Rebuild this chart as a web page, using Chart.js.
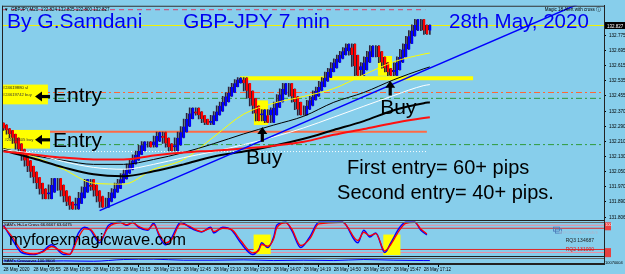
<!DOCTYPE html>
<html><head><meta charset="utf-8">
<script src="https://cdn.jsdelivr.net/npm/chart.js@4.4.1/dist/chart.umd.min.js"></script>
<style>html,body{margin:0;padding:0;background:#87CEEB;overflow:hidden}</style>
</head><body>
<canvas id="c" width="625" height="274"></canvas>
<script>
// ---------- data ----------
const closes = [
 132.28,132.27,132.25,132.23,
 132.20,132.17,132.14,132.11,132.08,132.05,132.02,131.99,131.96,131.93,131.905,
 131.94,131.98,132.015,
 131.98,131.95,131.92,131.89,131.87,131.85,
 131.88,131.91,131.94,131.97,132.01,
 131.98,131.95,131.92,131.89,131.86,
 131.89,131.91,131.94,131.96,131.99,132.01,132.04,132.06,132.09,132.11,132.14,132.16,132.19,132.21,
 132.19,132.18,
 132.21,132.24,132.26,
 132.23,132.20,132.18,132.16,
 132.19,132.23,132.26,132.29,132.33,132.36,132.39,
 132.37,132.35,132.33,132.31,132.30,
 132.32,132.35,132.37,132.40,132.42,132.45,132.47,132.50,132.52,132.54,132.55,
 132.52,132.48,132.44,132.40,132.36,132.32,
 132.35,132.38,132.31,
 132.35,132.39,132.42,132.46,132.49,132.52,
 132.49,132.45,132.42,132.38,132.35,
 132.38,132.40,132.43,132.45,132.48,132.50,132.53,132.55,132.58,132.60,132.63,132.65,132.67,132.69,132.71,132.73,
 132.67,132.61,132.56,
 132.59,132.63,132.66,132.69,132.72,
 132.69,132.66,132.63,132.60,132.58,132.56,
 132.59,132.63,132.66,132.70,132.73,132.77,132.80,132.83,132.86,
 132.83,132.80,132.78,132.83
];
const firstOpens = [132.31,132.30];

const timeIdx = [0,10,20,30,40,50,60,70,80,90,100,110,120,130,140];
const timeLabels = ["28 May 2020","28 May 09:55","28 May 10:05","28 May 10:35","28 May 11:15","28 May 12:15","28 May 12:45","28 May 13:10","28 May 13:29","28 May 14:07","28 May 14:19","28 May 14:50","28 May 15:07","28 May 15:47","28 May 17:12"];
const priceTicks = [132.775,132.695,132.615,132.535,132.455,132.370,132.290,132.210,132.130,132.050,131.970,131.890,131.806];
const lastPrice = 132.827;

const maIdx    = [0,10,20,30,40,50,60,70,80,90,100,110,120,130,140,142];
const maYellow = [132.173,132.131,132.063,131.989,131.984,132.063,132.115,132.235,132.356,132.414,132.450,132.492,132.565,132.634,132.675,132.681];
const maBlack1 = [132.173,132.136,132.110,132.089,132.089,132.115,132.152,132.199,132.251,132.298,132.345,132.419,132.471,132.539,132.597,132.607];
const maWhite  = [132.167,132.146,132.104,132.073,132.063,132.089,132.125,132.157,132.194,132.235,132.283,132.340,132.398,132.455,132.508,132.513];
const maBlack2 = [132.162,132.120,132.073,132.036,132.026,132.052,132.089,132.131,132.157,132.188,132.225,132.272,132.319,132.377,132.414,132.419];
const maRed    = [132.157,132.141,132.125,132.115,132.115,132.136,132.152,132.162,132.173,132.188,132.209,132.246,132.277,132.309,132.335,132.340];

const trendIdx = [32,200];
const trendPrice = [131.843,133.00];

// horizontal levels: [price, fromIdx, toIdx]
const lvlPinkDash   = [132.911,-0.5,140.5];
const lvlPriceLine  = [lastPrice,-0.5,200];
const lvlOrangeDD   = [132.471,-0.5,200];
const lvlGreenDD1   = [132.440,-0.5,200];
const lvlOrange     = [132.262,-0.5,141];
const lvlGreenDD2   = [132.194,-0.5,200];
const lvlWhiteDot   = [132.157,-0.5,141];
const lvlYellowBold = [132.547,78.8,156.4];

const oscIdx  = [0,3,6,10,13,16,20,22,25,27,29,32,35,39,41,43,45,48,50,52,54,56,59,62,64,66,69,70,73,76,79,83,85,86,88,90,91,94,96,99,102,105,113,118,120,122,124,127,129,132,134,137,139,141];
const oscBlue = [91,47,9,3,12,32,3,3,68,85,76,38,91,100,91,100,85,76,97,56,32,53,100,85,76,71,85,68,85,76,38,3,18,38,24,56,91,100,76,24,56,100,100,38,76,56,68,9,38,85,100,100,76,62];
const oscRed  = [88,55,15,5,10,27,8,3,55,80,78,45,85,98,93,98,88,78,93,62,38,48,95,88,78,72,82,72,82,78,45,8,15,33,28,50,83,98,80,30,50,95,100,45,70,60,66,14,33,78,97,100,80,65];
const oscLevels = [91,82,18,9];

const lowIdx  = [0,10,20,30,40,50,60,70,80,90,100,110,120,130,140,142];
const lowVals = [45,40,45,40,65,70,55,55,60,50,55,50,65,55,50,50];

// ---------- derived tables ----------
const prevC = (i,k) => i-k >= 0 ? closes[i-k] : firstOpens[i-k+2];
const nxt = i => closes[Math.min(i+1, closes.length-1)];
const bodyFrom = closes.map((c,i)=> prevC(i,2));
const isUp = closes.map((c,i)=> c >= prevC(i,1));
const wickLo = closes.map((c,i)=>Math.min(prevC(i,2), prevC(i,1), c, nxt(i)));
const wickHi = closes.map((c,i)=>Math.max(prevC(i,2), prevC(i,1), c, nxt(i)));

const pts = (xs, ys) => xs.map((x,k)=>({x, y: ys[k]}));
const lvl = a => [{x:a[1], y:a[0]},{x:a[2], y:a[0]}];

function lvlDs(a, color, width, dash, axis){
  return {type:'line', data: lvl(a), borderColor: color, borderWidth: width, borderDash: dash||[], pointRadius:0, yAxisID: axis||'y', order: 10};
}
function maDs(vals, color, width){
  return {type:'line', data: pts(maIdx, vals), borderColor: color, borderWidth: width, pointRadius:0, cubicInterpolationMode:'monotone', yAxisID:'y', order:5};
}

const datasets = [
  lvlDs(lvlPinkDash,'#d8406c',1,[5,4]),
  lvlDs(lvlPriceLine,'#f2f200',1),
  lvlDs(lvlOrangeDD,'#ff6633',1,[6,3,2,3]),
  lvlDs(lvlGreenDD1,'#2f9a3a',1,[6,3,2,3]),
  lvlDs(lvlOrange,'#ff6a45',2),
  lvlDs(lvlGreenDD2,'#2f9a3a',1,[6,3,2,3]),
  lvlDs(lvlWhiteDot,'#ffffff',1,[1,2]),
  lvlDs(lvlYellowBold,'#ffff00',4),
  {type:'bar', label:'wick', data: closes.map((c,i)=>({x:i, y:[wickLo[i], wickHi[i]]})), backgroundColor:'#2e2238', barThickness:1, grouped:false, yAxisID:'y', order:8},
  {type:'bar', label:'body', data: closes.map((c,i)=>({x:i, y:[bodyFrom[i], c]})),
   backgroundColor: isUp.map(u=> u ? '#0000ff' : '#ff0000'),
   borderColor:'#2e2238', borderWidth:{left:1,right:0,top:0,bottom:0}, borderSkipped:false,
   barThickness:3, grouped:false, yAxisID:'y', order:7},
  maDs(maRed,'#ff1010',2),
  maDs(maBlack2,'#000000',2),
  maDs(maWhite,'#ffffff',1),
  maDs(maBlack1,'#000000',1),
  maDs(maYellow,'#ffff00',1),
  {type:'line', data: pts(trendIdx, trendPrice), borderColor:'#0000ff', borderWidth:1.5, pointRadius:0, yAxisID:'y', order:4},
  ...oscLevels.map((v,k)=>({type:'line', data:[{x:-0.5,y:v},{x:200,y:v}], borderColor: (k===0||k===3)?'#f08aa0':'#e02828', borderWidth:1, pointRadius:0, yAxisID:'yOsc', order:10})),
  {type:'line', data: pts(oscIdx, oscBlue), borderColor:'#0000ff', borderWidth:1.5, pointRadius:0, cubicInterpolationMode:'monotone', yAxisID:'yOsc', order:3},
  {type:'line', data: pts(oscIdx, oscRed), borderColor:'#ff0000', borderWidth:1.3, pointRadius:0, cubicInterpolationMode:'monotone', yAxisID:'yOsc', order:2},
  {type:'line', data: pts(lowIdx, lowVals), borderColor:'#0000ff', borderWidth:1, pointRadius:0, cubicInterpolationMode:'monotone', yAxisID:'yLow', order:3}
];

// ---------- annotations (data coordinates) ----------
const labelBoxes = [ {i0:-0.5,i1:14.8,p0:132.513,p1:132.408}, {i0:-0.3,i1:15.5,p0:132.272,p1:132.173} ];
const hiBoxes = [ {i0:83.4,i1:88.1,p0:132.429,p1:132.298}, {i0:124.7,i1:129.4,p0:132.665,p1:132.560} ];
const oscBoxes = [ {i0:83.3,i1:89.0,v0:63,v1:4}, {i0:126.5,i1:132.2,v0:63,v1:1} ];

const FONT = '"Liberation Sans", Arial, sans-serif';

const deco = {
  id:'deco',
  beforeDraw(c){ const ctx=c.ctx; ctx.save(); ctx.fillStyle='#87CEEB'; ctx.fillRect(0,0,c.width,c.height); ctx.restore(); },
  beforeDatasetDraw(c, args){
    if (c.data.datasets[args.index].label !== 'wick') return;
    const ctx=c.ctx, X=c.scales.x, Y=c.scales.y, O=c.scales.yOsc;
    ctx.save();
    ctx.fillStyle='#ffff00';
    for (const b of hiBoxes.concat(labelBoxes)) {
      const x0=X.getPixelForValue(b.i0), x1=X.getPixelForValue(b.i1), y0=Y.getPixelForValue(b.p0), y1=Y.getPixelForValue(b.p1);
      ctx.fillRect(x0,y0,x1-x0,y1-y0);
    }
    for (const b of oscBoxes) {
      const x0=X.getPixelForValue(b.i0), x1=X.getPixelForValue(b.i1), y0=O.getPixelForValue(b.v0), y1=O.getPixelForValue(b.v1);
      ctx.fillRect(x0,y0,x1-x0,y1-y0);
    }
    ctx.restore();
  },
  afterDatasetsDraw(c){
    const ctx=c.ctx, X=c.scales.x, Y=c.scales.y, O=c.scales.yOsc, L=c.scales.yLow, A=c.chartArea;
    const px=v=>X.getPixelForValue(v), py=v=>Y.getPixelForValue(v);
    ctx.save();
    // panel frames
    ctx.lineWidth=1;
    const hl=(y,col)=>{ctx.strokeStyle=col; ctx.beginPath(); ctx.moveTo(A.left,y); ctx.lineTo(A.right,y); ctx.stroke();};
    hl(A.top+0.5,'#333'); hl(Math.round(Y.bottom)-0.5,'#222'); hl(Math.round(Y.bottom)+1.5,'#666');
    hl(Math.round(O.bottom)-0.5,'#222'); hl(Math.round(O.bottom)+1.5,'#666'); hl(Math.round(L.bottom)-0.5,'#222');
    ctx.strokeStyle='#222'; ctx.beginPath(); ctx.moveTo(A.left+0.5,A.top); ctx.lineTo(A.left+0.5,A.bottom); ctx.stroke();

    const txt=(s,x,y,size,color,align)=>{ctx.font=size+'px '+FONT; ctx.fillStyle=color; ctx.textAlign=align||'left'; ctx.textBaseline='alphabetic'; ctx.fillText(s,x,y);};
    // header tiny texts
    txt('\u25BC  GBPJPY,M20  132.824 132.835 132.800 132.827', A.left+2, A.top+5, 4.5, '#000');
    txt('Magic 18 Alert with cross \u24D8', A.right-3, A.top+5, 4.5, '#000', 'right');
    // titles
    txt('By G.Samdani', 7, 28, 21, '#0000f0');
    txt('GBP-JPY 7 min', 183, 28, 21, '#0000f0');
    txt('28th May, 2020', 449, 28, 20.5, '#0000f0');
    // left label boxes text
    txt('#24619880 sl', px(-0.2), py(132.487), 4.2, '#222');
    txt('#24619742 buy', px(-0.2), py(132.450), 4.2, '#333');
    txt('#24613605 buy', px(0.3), py(132.215), 4.2, '#333');
    // Entry labels + left arrows
    const leftArrow=(i0,i1,p)=>{const x0=px(i0), x1=px(i1), y=py(p); ctx.fillStyle='#000';
      ctx.fillRect(x0+6,y-1.5,x1-x0-6,3.2); ctx.beginPath(); ctx.moveTo(x0,y); ctx.lineTo(x0+7,y-5); ctx.lineTo(x0+7,y+5); ctx.closePath(); ctx.fill();};
    leftArrow(10.5,15.5,132.450); leftArrow(10.5,15.5,132.220);
    txt('Entry', px(16.5), py(132.419), 21, '#000');
    txt('Entry', px(16.5), py(132.183), 21, '#000');
    // Buy arrows & labels
    const upArrow=(i,pTip,pTail)=>{const x=px(i), y0=py(pTip), y1=py(pTail); ctx.fillStyle='#000';
      ctx.fillRect(x-1.6,y0+5,3.2,y1-y0-5); ctx.beginPath(); ctx.moveTo(x,y0); ctx.lineTo(x-5,y0+7); ctx.lineTo(x+5,y0+7); ctx.closePath(); ctx.fill();};
    upArrow(86.2,132.288,132.209); upArrow(128.8,132.534,132.455);
    txt('Buy', px(80.8), py(132.089), 21, '#000');
    txt('Buy', px(125.5), py(132.356), 21, '#000');
    // result texts
    txt('First entry= 60+ pips', px(114.4), py(132.036), 20, '#000');
    txt('Second entry= 40+ pips.', px(111.1), py(131.905), 20, '#000');
    // osc panel texts
    txt("SAM's Hi-Lo Cross 66.6667 63.6475", A.left+2, O.top+5, 4.2, '#000');
    txt('myforexmagicwave.com', px(1.8), O.getPixelForValue(31), 16.5, '#000');
    txt("SAM's Crossover 100.9604", A.left+2, L.top+4.5, 4.2, '#000');
    txt('RQ3 134687', 594, O.getPixelForValue(40), 5, '#222', 'right');
    txt('RQ2 131000', 594, O.getPixelForValue(13), 5, '#e01010', 'right');
    ctx.strokeStyle='#4a78b8'; ctx.lineWidth=0.8;
    ctx.strokeRect(553.5,O.top+6.5,6,4); ctx.strokeRect(555.5,O.top+8.5,6,4);
    txt('MYFOREXMAGICWAVE', 598, O.getPixelForValue(66), 3.5, '#a8b8d0', 'right');
    // right axis price box
    const yp=py(lastPrice);
    ctx.fillStyle='#000'; ctx.fillRect(A.right+1, yp-3.5, 20, 7);
    txt('132.827', A.right+3, yp+2, 4.5, '#fff');
    // osc axis markers
    ctx.fillStyle='#e84040';
    ctx.fillRect(A.right+1, O.getPixelForValue(100), 6, 8);
    ctx.fillRect(A.right+1, O.getPixelForValue(22), 6, 9);
    txt('100', A.right+1.5, O.getPixelForValue(100)+4, 3.5, '#fff');
    txt('10070004', A.right+1, L.bottom, 4, '#000');
    ctx.restore();
  }
};

const fitW = s => { s.width = 21; };
new Chart(document.getElementById('c'), {
  type:'line',
  data:{ datasets },
  options:{
    responsive:false, animation:false, devicePixelRatio:1,
    layout:{ padding:{ left:2, top:2, right:0, bottom:0 } },
    plugins:{ legend:{display:false}, tooltip:{enabled:false} },
    elements:{ point:{ radius:0 } },
    scales:{
      x:{ type:'linear', min:-0.5, max:200, offset:false, position:'bottom',
          afterBuildTicks: s => { s.ticks = timeIdx.map(v=>({value:v})); },
          afterFit: s => { s.height = 10; },
          ticks:{ autoSkip:false, maxRotation:0, minRotation:0, align:'start', padding:0, color:'#000',
                  font:{ size:4.5, family:'Liberation Sans' },
                  callback: v => timeLabels[timeIdx.indexOf(v)] },
          grid:{ drawOnChartArea:false, drawTicks:true, tickLength:3, color:'#000' },
          border:{ display:true, color:'#222' } },
      y:{ type:'linear', position:'right', stack:'panes', stackWeight:218, min:131.790, max:132.932,
          afterBuildTicks: s => { s.ticks = priceTicks.map(v=>({value:v})); },
          afterFit: fitW,
          ticks:{ padding:3, color:'#000', font:{ size:4.6, family:'Liberation Sans' }, callback: v => v.toFixed(3) },
          grid:{ drawOnChartArea:false, drawTicks:true, tickLength:2, color:'#000' },
          border:{ display:true, color:'#222' } },
      yOsc:{ type:'linear', position:'right', stack:'panes', stackWeight:37, min:-5, max:105,
          afterFit: fitW, ticks:{ display:false }, grid:{ display:false }, border:{ display:true, color:'#222' } },
      yLow:{ type:'linear', position:'right', stack:'panes', stackWeight:7, min:0, max:100,
          afterFit: fitW, ticks:{ display:false }, grid:{ display:false }, border:{ display:true, color:'#222' } }
    }
  },
  plugins:[deco]
});
</script>
</body></html>
